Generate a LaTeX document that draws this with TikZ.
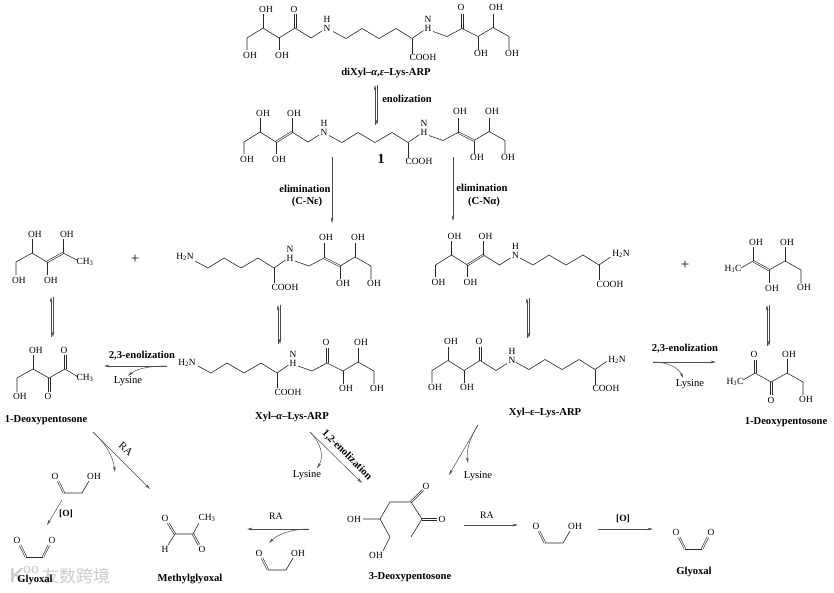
\documentclass[tikz,border=0pt]{standalone}
\usepackage{fontspec}
\setmainfont{Liberation Serif}
\newfontfamily\cjkwm{Noto Sans CJK SC}
\usetikzlibrary{arrows.meta,calc}
\tikzset{
  atom/.style={inner sep=0pt,font=\fontsize{9.4}{10}\selectfont},
  lbl/.style={inner sep=0pt,font=\fontsize{10.6}{11}\selectfont\bfseries},
  reg/.style={inner sep=0pt,font=\fontsize{10.6}{11}\selectfont},
  bond/.style={line width=.6pt,black!85,line join=round},
  bondtwo/.style={line width=.5pt,black!85},
  arr/.style={line width=.5pt,black!70,-{Stealth[length=5.5pt,width=2.6pt]}},
  wm/.style={inner sep=0pt,text=black!20}
}
\newcommand\pts[1]{\foreach \n/\p in {#1}{\coordinate (\n) at (\p);}}
\newcommand\dbond[2]{%
  \draw[bondtwo] ($(#1)!.85pt!90:(#2)$) -- ($(#2)!.85pt!-90:(#1)$);
  \draw[bondtwo] ($(#1)!.85pt!-90:(#2)$) -- ($(#2)!.85pt!90:(#1)$);}
% lysine chain, origin at the alpha nitrogen
\newcommand\lyschain{%
  \pts{lh/{-95,3},le/{-82,10},ld/{-66,0},lc/{-49,10},lb/{-32,0},la/{-16,10},lg/{-4.5,2},lf/{-16,25}}
  \draw[bond] (lh)--(le)--(ld)--(lc)--(lb)--(la)--(lg);
  \draw[bond] (la)--(lf);
  \node[atom] (cooh) at (-5,29) {COOH};}
% sugars to the right of N
\newcommand\sugarRpts{%
  \pts{ra/{5,3},rb/{19,8},rc/{34,0},rd/{50,8},re/{65,-1},rf/{81,8},rg/{81,21},rco/{34,-15},rdo/{50,21},reo/{65,-15}}
  \draw[bond] (rd)--(rdo); \draw[bond] (re)--(reo);
  \draw[bond] (rd)--(re)--(rf)--(rg);
  \node[atom] (oh2) at (68,-21) {OH};
  \node[atom] (oh3) at (53,25) {OH};
  \node[atom] (oh4) at (84,25) {OH};}
\newcommand\ketoR{\sugarRpts
  \draw[bond] (ra)--(rb)--(rc)--(rd);
  \dbond{rc}{rco}
  \node[atom] (oh1) at (33,-21) {O};}
\newcommand\enolR{\sugarRpts
  \draw[bond] (ra)--(rb)--(rc);
  \dbond{rc}{rd}
  \draw[bond] (rc)--(rco);
  \node[atom] (oh1) at (36,-21) {OH};}
% sugars to the left of N
\newcommand\sugarLpts{%
  \pts{sa/{-5,3},sb/{-16,10},sc/{-32,0},sd/{-48,10},se/{-64,0},sf/{-80,10},sg/{-80,22},sco/{-32,-14},sdo/{-48,22},seo/{-64,-14}}
  \draw[bond] (sd)--(sdo); \draw[bond] (se)--(seo);
  \draw[bond] (sd)--(se)--(sf)--(sg);
  \node[atom] (oh2) at (-61,-19) {OH};
  \node[atom] (oh3) at (-45,27) {OH};
  \node[atom] (oh4) at (-77,27) {OH};}
\newcommand\ketoL{\sugarLpts
  \draw[bond] (sa)--(sb)--(sc)--(sd);
  \dbond{sc}{sco}
  \node[atom] (oh1) at (-33,-19) {O};}
\newcommand\enolL{\sugarLpts
  \draw[bond] (sa)--(sb)--(sc);
  \dbond{sc}{sd}
  \draw[bond] (sc)--(sco);
  \node[atom] (oh1) at (-30,-19) {OH};}
\newcommand\nhup{\node[atom] (nn) at (0,0) {N}; \node[atom] (nh) at (0,-9) {H};}
\newcommand\nhdn{\node[atom] (nh) at (0,0) {H}; \node[atom] (nn) at (0,-9) {N};}
% reversible pair of arrows
\newcommand\equil[4]{%
  \coordinate (#1a) at (#2-1,#4); \coordinate (#1b) at (#2-1,#3);
  \coordinate (#1c) at (#2+1,#3); \coordinate (#1d) at (#2+1,#4);
  \draw[arr] (#1a)--(#1b); \draw[arr] (#1c)--(#1d);}
% glycolaldehyde
\newcommand\glycol{%
  \pts{ga/{3,5},gb/{9,17},gc/{27,17},gd/{34,5}}
  \dbond{ga}{gb} \draw[bond] (gb)--(gc)--(gd);
  \node[atom] (go) at (0,0) {O}; \node[atom] (goh) at (39,0) {OH};}
% glyoxal
\newcommand\glyoxal{%
  \pts{ya/{3,5},yb/{9,17},yc/{26,17},yd/{32,5}}
  \dbond{ya}{yb} \draw[bond] (yb)--(yc); \dbond{yc}{yd}
  \node[atom] (yo1) at (0,0) {O}; \node[atom] (yo2) at (35,0) {O};}
\begin{document}
\begin{tikzpicture}[x=1pt,y=-1pt]
\fill[white] (0,0) rectangle (834,592);
\useasboundingbox (0,0) rectangle (834,592);
% watermark
\node[wm,font=\fontsize{20}{20}\selectfont\sffamily\bfseries] (wmk) at (17,576) {K};
\node[wm,font=\fontsize{10}{10}\selectfont\sffamily\bfseries] (wmo) at (31,570) {OO};
\node[wm,font=\fontsize{17}{17}\selectfont\cjkwm] (wmt) at (76,576) {友数跨境};
% top molecule
\begin{scope}[shift={(327,28)},name prefix=a-] \ketoL\nhup \end{scope}
\begin{scope}[shift={(428,28.5)},name prefix=b-] \lyschain\ketoR\nhdn \end{scope}
\node[lbl] (t-di) at (386,73) {diXyl–\textit{α},\textit{ε}–Lys-ARP};
\equil{e1}{376}{85}{125}
\node[lbl] (t-enol) at (407,99) {enolization};
% molecule 1
\begin{scope}[shift={(324,132)},name prefix=c-] \enolL\nhup \end{scope}
\begin{scope}[shift={(424,132.5)},name prefix=d-] \lyschain\enolR\nhdn \end{scope}
\node[inner sep=0pt,font=\fontsize{14}{14}\selectfont\bfseries] (t-one) at (381,159) {1};
% elimination arrows
\coordinate (e2a) at (332,157); \coordinate (e2b) at (332,223); \draw[arr] (e2a)--(e2b);
\coordinate (e3a) at (453,157); \coordinate (e3b) at (453,221); \draw[arr] (e3a)--(e3b);
\node[lbl] (t-el1) at (305,189) {elimination};
\node[lbl] (t-el1b) at (307,202) {(C-Nε)};
\node[lbl] (t-el2) at (482,188) {elimination};
\node[lbl] (t-el2b) at (484,202) {(C-Nα)};
% left enol
\pts{p1/{16,275},p2/{16,262},p3/{32,253},p4/{47,262},p5/{63,253},p6/{77,260},p7/{32,239},p8/{63,239},p9/{47,275}}
\draw[bond] (p1)--(p2)--(p3)--(p4); \dbond{p4}{p5} \draw[bond] (p5)--(p6);
\draw[bond] (p3)--(p7); \draw[bond] (p5)--(p8); \draw[bond] (p4)--(p9);
\node[atom] (le1) at (35,234) {OH}; \node[atom] (le2) at (67,234) {OH};
\node[atom] (le3) at (19,280) {OH}; \node[atom] (le4) at (51,280) {OH};
\node[atom] (le5) at (85,262) {CH\textsubscript{3}};
\node[inner sep=0pt,font=\fontsize{15}{15}\selectfont] (plus1) at (135,259) {+};
\equil{e4}{52}{297}{337}
% left ketone
\pts{q1/{17,392},q2/{17,378},q3/{33,369},q4/{49,378},q5/{65,369},q6/{78,377},q7/{33,355},q8/{65,355},q9/{49,392}}
\draw[bond] (q1)--(q2)--(q3)--(q4)--(q5)--(q6); \draw[bond] (q3)--(q7);
\dbond{q5}{q8} \dbond{q4}{q9}
\node[atom] (lk1) at (36,350) {OH}; \node[atom] (lk2) at (64,350) {O};
\node[atom] (lk3) at (20,396) {OH}; \node[atom] (lk4) at (48,396) {O};
\node[atom] (lk5) at (85,378) {CH\textsubscript{3}};
\node[lbl] (t-d1) at (46,420.5) {1-Deoxypentosone};
% 2,3-enolization left
\node[lbl] (t-en23a) at (142,356) {2,3-enolization};
\coordinate (e5a) at (167,366); \coordinate (e5b) at (104,366); \coordinate (e5c) at (128,376);
\draw[arr] (e5a)--(e5b);
\draw[arr] (e5a) .. controls (148,366) and (136,369) .. (e5c);
\node[reg] (t-ly1) at (128,381.5) {Lysine};
% enol alpha
\begin{scope}[shift={(290,258)},name prefix=f-] \lyschain\enolR\nhdn \node[atom] (n2) at (-105,-1) {H\textsubscript{2}N}; \end{scope}
\equil{e6}{279}{305}{344}
% xyl alpha
\begin{scope}[shift={(293,363)},name prefix=g-] \lyschain\ketoR\nhdn \node[atom] (n2) at (-106,0) {H\textsubscript{2}N}; \end{scope}
\node[lbl] (t-xa) at (292,417) {Xyl–\textit{α}–Lys-ARP};
% enol epsilon
\begin{scope}[shift={(515.5,255)},name prefix=h-] \enolL\nhup \end{scope}
\begin{scope}[shift={(615,255)},name prefix=i-] \lyschain \node[atom] (n2) at (6,-1) {H\textsubscript{2}N}; \end{scope}
\equil{e7}{528}{298}{338}
% xyl epsilon
\begin{scope}[shift={(512,360.5)},name prefix=j-] \ketoL\nhup \end{scope}
\begin{scope}[shift={(611,359.5)},name prefix=k-] \lyschain \node[atom] (n2) at (6,0.5) {H\textsubscript{2}N}; \end{scope}
\node[lbl] (t-xe) at (545,413) {Xyl–ε–Lys-ARP};
% right enol
\node[inner sep=0pt,font=\fontsize{15}{15}\selectfont] (plus2) at (685,265) {+};
\pts{u1/{741,268},u2/{753,261},u3/{769,270},u4/{785,261},u5/{801,270},u6/{801,283},u7/{753,247},u8/{769,283},u9/{785,247}}
\draw[bond] (u1)--(u2); \dbond{u2}{u3} \draw[bond] (u3)--(u4)--(u5)--(u6);
\draw[bond] (u2)--(u7); \draw[bond] (u3)--(u8); \draw[bond] (u4)--(u9);
\node[atom] (re1) at (756,242) {OH}; \node[atom] (re2) at (787,242) {OH};
\node[atom] (re3) at (772,288) {OH}; \node[atom] (re4) at (804,287) {OH};
\node[atom] (re5) at (733,269) {H\textsubscript{3}C};
\equil{e8}{768}{305}{346}
% right ketone
\pts{v1/{743,380},v2/{755,373},v3/{771,382},v4/{787,373},v5/{803,382},v6/{803,395},v7/{755,360},v8/{771,395},v9/{787,359}}
\draw[bond] (v1)--(v2)--(v3)--(v4)--(v5)--(v6); \draw[bond] (v4)--(v9);
\dbond{v2}{v7} \dbond{v3}{v8}
\node[atom] (rk1) at (754,354) {O}; \node[atom] (rk2) at (789,354) {OH};
\node[atom] (rk3) at (771,400) {O}; \node[atom] (rk4) at (806,399) {OH};
\node[atom] (rk5) at (735,382) {H\textsubscript{3}C};
\node[lbl] (t-d2) at (786,422) {1-Deoxypentosone};
\node[lbl] (t-en23b) at (685,349) {2,3-enolization};
\coordinate (e9a) at (653,362); \coordinate (e9b) at (716,362); \coordinate (e9c) at (683,378);
\draw[arr] (e9a)--(e9b);
\draw[arr] (e9a) .. controls (668,362) and (679,368) .. (e9c);
\node[reg] (t-ly2) at (690,384) {Lysine};
% bottom left
\coordinate (f1a) at (93,432); \coordinate (f1b) at (150,489); \coordinate (f1c) at (115,472);
\draw[arr] (f1a)--(f1b);
\draw[arr] (f1a) .. controls (106,444) and (113,456) .. (f1c);
\node[reg,rotate=-42] (t-ra1) at (126,449) {RA};
\begin{scope}[shift={(55,476)},name prefix=m-] \glycol \end{scope}
\coordinate (f2a) at (62,500); \coordinate (f2b) at (47,525); \draw[arr] (f2a)--(f2b);
\node[lbl,font=\fontsize{9.5}{10}\selectfont\bfseries] (t-o1) at (66,514) {[O]};
\begin{scope}[shift={(17,540)},name prefix=n-] \glyoxal \end{scope}
\node[lbl] (t-gl1) at (35,580) {Glyoxal};
% methylglyoxal
\pts{w1/{168,523},w2/{175,534},w3/{193,534},w4/{199,523},w5/{199,545},w6/{168,545}}
\dbond{w1}{w2} \draw[bond] (w2)--(w3)--(w4); \dbond{w3}{w5} \draw[bond] (w2)--(w6);
\node[atom] (mg1) at (165,518) {O}; \node[atom] (mg2) at (207,518) {CH\textsubscript{3}};
\node[atom] (mg3) at (165,549) {H}; \node[atom] (mg4) at (202,549) {O};
\node[lbl] (t-mg) at (190,579) {Methylglyoxal};
% 1,2-enolization
\coordinate (f3a) at (310,432); \coordinate (f3b) at (362,483); \coordinate (f3c) at (317,468);
\draw[arr] (f3a)--(f3b);
\draw[arr] (f3a) .. controls (320,442) and (325,456) .. (f3c);
\node[lbl,rotate=-45] (t-en12) at (347,455) {1,2-enolization};
\node[reg] (t-ly3) at (307,475) {Lysine};
% epsilon lysine arrow
\coordinate (f4a) at (478,425); \coordinate (f4b) at (449,475); \coordinate (f4c) at (468,463);
\draw[arr] (f4a)--(f4b);
\draw[arr] (f4a) .. controls (470,438) and (466,450) .. (f4c);
\node[reg] (t-ly4) at (478,476) {Lysine};
% RA to methylglyoxal
\coordinate (f5a) at (309,529); \coordinate (f5b) at (247,529); \coordinate (f5c) at (269,543);
\draw[arr] (f5a)--(f5b);
\draw[arr] (f5a) .. controls (292,529) and (278,534) .. (f5c);
\node[lbl,font=\fontsize{9.8}{10}\selectfont] (t-ra2) at (276,516) {RA};
\begin{scope}[shift={(259,553)},name prefix=o-] \glycol \end{scope}
% 3-deoxypentosone
\pts{z1/{363,519},z2/{380,519},z3/{390,537},z4/{383,551},z5/{390,502},z6/{411,502},z7/{422,519},z8/{411,537},z9/{423,490},z10/{437,519}}
\draw[bond] (z1)--(z2)--(z3)--(z4); \draw[bond] (z2)--(z5)--(z6)--(z7)--(z8);
\dbond{z6}{z9} \dbond{z7}{z10}
\node[atom] (dp1) at (354,519) {OH}; \node[atom] (dp2) at (376,555) {OH};
\node[atom] (dp3) at (426,486) {O}; \node[atom] (dp4) at (442,519) {O};
\node[lbl] (t-d3) at (410,577) {3-Deoxypentosone};
% RA right
\coordinate (f6a) at (464,525); \coordinate (f6b) at (518,525); \draw[arr] (f6a)--(f6b);
\node[lbl,font=\fontsize{9.8}{10}\selectfont] (t-ra3) at (487,515) {RA};
\begin{scope}[shift={(536,526)},name prefix=r-] \glycol \end{scope}
\coordinate (f7a) at (598,529); \coordinate (f7b) at (653,529); \draw[arr] (f7a)--(f7b);
\node[lbl,font=\fontsize{9.5}{10}\selectfont\bfseries] (t-o2) at (623,519) {[O]};
\begin{scope}[shift={(676,532)},name prefix=s-] \glyoxal \end{scope}
\node[lbl] (t-gl2) at (694,572) {Glyoxal};
\end{tikzpicture}
\end{document}
